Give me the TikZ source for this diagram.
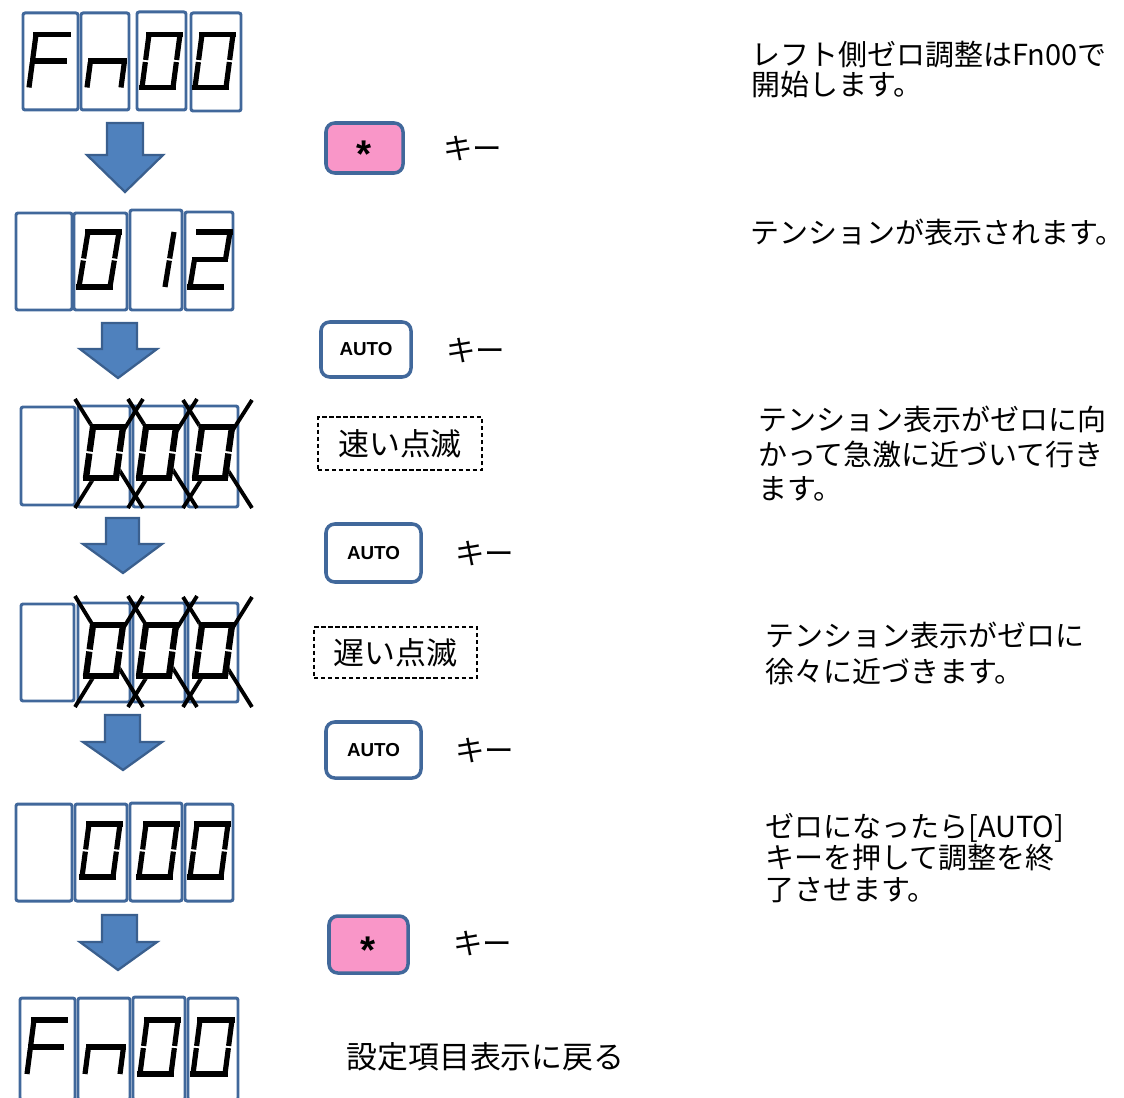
\documentclass[tikz,border=0pt]{standalone}
\usepackage{fontspec}
\setmainfont{Noto Sans CJK JP}
\newfontfamily\lsans{Liberation Sans}
\definecolor{boxblue}{HTML}{41689B}
\definecolor{arrfill}{HTML}{4F81BD}
\definecolor{arrline}{HTML}{3A5F8E}
\definecolor{keypink}{HTML}{F996C8}
\tikzset{
  pxsize/.style 2 args={minimum width={#1*0.02cm}, minimum height={#2*0.02cm}},
  dbox/.style={draw=boxblue, line width=1.7pt, fill=white, rounded corners=1.2pt, inner sep=0pt},
  keybox/.style={draw=boxblue, line width=2pt, rounded corners=5pt, inner sep=0pt},
  starkey/.style={keybox, fill=keypink, font=\lsans\bfseries\fontsize{22}{22}\selectfont, text height=0pt, text depth=0pt},
  autokey/.style={keybox, fill=white, font=\lsans\bfseries\fontsize{10.7}{10.7}\selectfont},
  blink/.style={draw=black, line width=0.8pt, dash pattern=on 2.4pt off 1.6pt, inner sep=0pt, font=\fontsize{17.6}{17.6}\selectfont},
  jlabel/.style={inner sep=0pt, anchor=west, font=\fontsize{16.8}{16.8}\selectfont},
  note/.style={inner sep=0pt, anchor=base west},
  downarrow/.style={fill=arrfill, draw=arrline, line width=1.3pt, line join=miter},
  hseg/.style={line cap=rect},
  vseg/.style={line cap=butt},
  xmark/.style={draw=black, line width=2.2pt},
}
\newcommand{\dbx}[5]{\node[dbox, minimum width={(#4-#2)*0.02cm}, minimum height={(#5-#3)*0.02cm}] (#1) at ({(#2+#4)/2},{(#3+#5)/2}) {};}
% seven segment digit: #1 x0 (bottom left), #2 y0 (bottom), #3 width, #4 height, #5 slant, #6 segments
\newcommand{\sevseg}[6]{%
  \coordinate (sBL) at (#1,#2);
  \coordinate (sBR) at ({#1+#3},#2);
  \coordinate (sML) at ({#1+#5/2},{#2-#4/2});
  \coordinate (sMR) at ({#1+#3+#5/2},{#2-#4/2});
  \coordinate (sTL) at ({#1+#5},{#2-#4});
  \coordinate (sTR) at ({#1+#3+#5},{#2-#4});
  \foreach \sg in {#6}{%
    \if a\sg \draw[hseg] (sTL)--(sTR);\fi
    \if b\sg \draw[vseg, shorten >=0.6pt] (sTR)--(sMR);\fi
    \if c\sg \draw[vseg, shorten <=0.6pt] (sMR)--(sBR);\fi
    \if d\sg \draw[hseg] (sBL)--(sBR);\fi
    \if e\sg \draw[vseg, shorten <=0.6pt] (sML)--(sBL);\fi
    \if f\sg \draw[vseg, shorten >=0.6pt] (sTL)--(sML);\fi
    \if g\sg \draw[hseg] (sML)--(sMR);\fi
  }%
}
\newcommand{\segbg}[5]{%
  \fill[white] ({#1-3},{#2+3}) -- ({#1+#3+3},{#2+3}) -- ({#1+#3+#5+3},{#2-#4-3}) -- ({#1+#5-3},{#2-#4-3}) -- cycle;}
\newcommand{\xpair}[4]{\draw[xmark] (#1,#3)--(#2,#4); \draw[xmark] (#2,#3)--(#1,#4);}
\begin{document}
\begin{tikzpicture}[x=0.02cm, y=-0.02cm]
\path[use as bounding box] (0,0) rectangle (1124,1097);

% ---------- display boxes ----------
\dbx{r1a}{23}{13}{78}{110} \dbx{r1b}{81}{13}{129}{110} \dbx{r1c}{137}{12}{186}{110} \dbx{r1d}{191}{13}{241}{111}
\dbx{r2a}{16}{213}{72}{310} \dbx{r2b}{74}{213}{127}{310} \dbx{r2c}{130}{210}{182}{310} \dbx{r2d}{185}{212}{233}{310}
\dbx{r3a}{21}{407}{75}{505} \dbx{r3b}{78}{406}{130}{507} \dbx{r3c}{133}{406}{185}{507} \dbx{r3d}{188}{406}{238}{507}
\dbx{r4a}{21}{604}{74}{701} \dbx{r4b}{78}{603}{130}{702} \dbx{r4c}{133}{603}{185}{702} \dbx{r4d}{188}{603}{238}{702}
\dbx{r5a}{16}{804}{72}{901} \dbx{r5b}{75}{804}{127}{901} \dbx{r5c}{130}{803}{182}{901} \dbx{r5d}{185}{804}{233}{901}
\dbx{r6a}{20}{998}{75}{1100} \dbx{r6b}{78}{998}{130}{1100} \dbx{r6c}{133}{997}{185}{1100} \dbx{r6d}{188}{998}{238}{1100}

% ---------- blink marks ----------
\xpair{75}{143}{399}{508} \xpair{128}{197}{399}{508} \xpair{183}{252}{400}{508}
\xpair{75}{143}{596}{707} \xpair{128}{197}{596}{707} \xpair{183}{252}{597}{707}
\segbg{86}{478}{30}{51}{7} \segbg{139}{478}{30}{51}{7} \segbg{195}{478}{30}{51}{7}
\segbg{86}{676}{30}{51}{7} \segbg{139}{676}{30}{51}{7} \segbg{195}{676}{30}{51}{7}

% ---------- digits ----------
\begin{scope}[line width=2.95pt]
  \sevseg{29}{87.5}{32}{53}{7}{a,e,f,g}
  \sevseg{87}{87.5}{34}{53}{7}{c,e,g}
  \sevseg{142}{87.5}{31}{53}{7}{a,b,c,d,e,f}
  \sevseg{195}{87.5}{31}{53}{7}{a,b,c,d,e,f}
  \sevseg{79}{287}{31}{55}{9}{a,b,c,d,e,f}
  \sevseg{134}{287}{31}{55}{9}{b,c}
  \sevseg{190}{287}{31}{55}{9}{a,b,g,e,d}
  \sevseg{82}{877}{31}{53}{7}{a,b,c,d,e,f}
  \sevseg{139}{877}{31}{53}{7}{a,b,c,d,e,f}
  \sevseg{190}{877}{31}{53}{7}{a,b,c,d,e,f}
  \sevseg{27}{1074}{31}{54}{7}{a,e,f,g}
  \sevseg{85}{1074}{35}{54}{7}{c,e,g}
  \sevseg{140}{1074}{31}{54}{7}{a,b,c,d,e,f}
  \sevseg{193}{1074}{32}{54}{7}{a,b,c,d,e,f}
\end{scope}
\begin{scope}[line width=3.6pt]
  \sevseg{86}{478}{30}{51}{7}{a,b,c,d,e,f}
  \sevseg{139}{478}{30}{51}{7}{a,b,c,d,e,f}
  \sevseg{195}{478}{30}{51}{7}{a,b,c,d,e,f}
  \sevseg{86}{676}{30}{51}{7}{a,b,c,d,e,f}
  \sevseg{139}{676}{30}{51}{7}{a,b,c,d,e,f}
  \sevseg{195}{676}{30}{51}{7}{a,b,c,d,e,f}
\end{scope}

% ---------- block arrows ----------
\draw[downarrow] (107,123) -- (143,123) -- (143,155) -- (163,155) -- (125,192) -- (87,155) -- (107,155) -- cycle;
\draw[downarrow] (102,323) -- (137,323) -- (137,349) -- (157,349) -- (118,378) -- (80,349) -- (102,349) -- cycle;
\draw[downarrow] (106,518) -- (139,518) -- (139,544) -- (162,544) -- (123,573) -- (83,544) -- (106,544) -- cycle;
\draw[downarrow] (105,715) -- (140,715) -- (140,742) -- (162,742) -- (123,770) -- (83,742) -- (105,742) -- cycle;
\draw[downarrow] (102,915) -- (137,915) -- (137,942) -- (157,942) -- (118,970) -- (80,942) -- (102,942) -- cycle;

% ---------- keys ----------
\node[starkey, pxsize={77}{50}] (k1) at (364.5,148) {\raisebox{-0.5em}{*}};
\node[autokey, pxsize={90}{55}] (k2) at (366,349.5) {AUTO};
\node[autokey, pxsize={95}{58}] (k3) at (373.5,553) {AUTO};
\node[autokey, pxsize={95}{56}] (k4) at (373.5,750) {AUTO};
\node[starkey, pxsize={79}{57}] (k5) at (368.5,944.5) {\raisebox{-0.5em}{*}};

\node[jlabel] (kl1) at (443,148) {キー};
\node[jlabel] (kl2) at (446,350) {キー};
\node[jlabel] (kl3) at (455,553) {キー};
\node[jlabel] (kl4) at (455,750) {キー};
\node[jlabel] (kl5) at (453,943) {キー};

\node[blink, pxsize={164}{53}] (b1) at (400,443.5) {速い点滅\hspace{0.2cm}};
\node[blink, pxsize={163}{51}] (b2) at (395.5,652.5) {遅い点滅\hspace{0.16cm}};

\node[jlabel, font=\fontsize{17.6}{17.6}\selectfont] (back) at (346,1057) {設定項目表示に戻る};

% ---------- notes ----------
\node[note, font=\fontsize{16.5}{17.07}\selectfont] (t1) at (751,66)
  {\parbox[t]{9cm}{レフト側ゼロ調整はFn00で\\開始します。}};
\node[note, font=\fontsize{16.5}{17.07}\selectfont] (t2) at (750,244)
  {テンションが表示されます。};
\node[note, font=\fontsize{16.5}{19.6}\selectfont] (t3) at (758,431)
  {\parbox[t]{9cm}{テンション表示がゼロに向\\かって急激に近づいて行き\\ます。}};
\node[note, font=\fontsize{16.5}{20.5}\selectfont] (t4) at (765,646)
  {\parbox[t]{9cm}{テンション表示がゼロに\\徐々に近づきます。}};
\node[note, font=\fontsize{16.5}{18.2}\selectfont] (t5) at (765,837)
  {\parbox[t]{9cm}{ゼロになったら[AUTO]\\キーを押して調整を終\\了させます。}};
\end{tikzpicture}
\end{document}
